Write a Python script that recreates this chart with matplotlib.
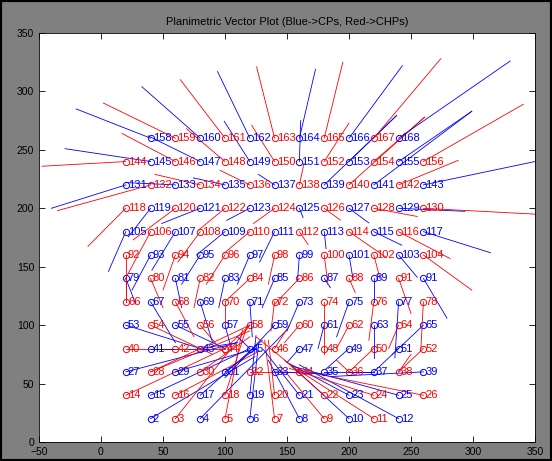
import matplotlib
matplotlib.use("Agg")
import matplotlib.pyplot as plt
from matplotlib.patches import Rectangle

plt.rcParams["font.family"] = ["Liberation Sans", "DejaVu Sans"]

# grid of check points, row by row (bottom to top)
row_y = [20, 40, 60, 80, 100, 120, 140, 160, 180, 200, 220, 240, 260]
x_short = [40, 60, 80, 100, 120, 140, 160, 180, 200, 220, 240]
x_full = [20, 40, 60, 80, 100, 120, 140, 160, 180, 200, 220, 240, 260]
row_first = [2, 14, 27, 40, 53, 66, 79, 92, 105, 118, 131, 144, 158]
printed_as = {90: "91"}  # the source figure prints point 90 as "91"
row_kind = [
    "BRBRBRBRBRB",
    "RBRBRBRBRBRBR",
    "BRBRBRBRBRBRB",
    "RBRBRBRBRBRBR",
    "BRBRBRBRBRBRB",
    "RBRBRBRBRBRBR",
    "BRBRBRBRBRBRB",
    "RBRBRBRBRBRBR",
    "BRBRBRBRBRBRB",
    "RBRBRBRBRBRBR",
    "BRBRBRBRBRBRB",
    "RBRBRBRBRBRBR",
    "BRBRBRBRBRB",
]

# vector components (dx, dy) per row
row_dx = [
    [84, 60, 70, 14, 7, -8, -25, -36, -46, -61, -80],
    [80, 80, 68, 50, 18, 5, -5, -29, -32, -48, -68, -86, -103],
    [90, 80, 65, 40, 25, 40, 45, -35, 40, -10, -20, 10, -75],
    [52, 40, 40, 30, 20, -10, 12, -10, 0, -19, -20, -20, -20],
    [60, 50, 40, 20, 5, -80, -40, -12, -5, -10, 0, -8, -25],
    [0, 20, 15, 10, 0, 2, -3, -10, 0, -10, -4, -3, -2],
    [8, 10, 5, -5, -5, -20, -10, -20, 5, 5, 0, 10, 19],
    [0, -15, -10, -15, -15, -10, -5, -1.5, 3, 3, 5, 15, 39],
    [-14, -21, -19, -18, -23, -21, -12, 7, 1.5, 30, 22.5, 41.5, 54],
    [-30.5, -18, -34, -31, -21.5, -18.6, -17, 3, 13, 16, 35, 53.5, 90],
    [-60, -75, -40, -36.5, -25.6, -24, -13, 3.7, 58.5, 61, 79, 48, 90],
    [-67.6, -69, -43, -42, -31, -20.6, -18.5, 1, 20, 38, 41, 59, 80.6],
    [-60, -58, -47, -36, -26, -14.5, 13, 15, 43, 54, 90],
]
row_dy = [
    [53, 80, 76, 76, 63, 67, 50, 46, 45, 41.5, 46],
    [40, 40, 38, 47, 60, 51, 47, 39, 30, 27, 23, 25, 22],
    [25, 35, 20, 30, 20, 0, -2, 30, 0, 10, 0, 15, -4],
    [0, 0, 0, 5, 20, 10, 20, -12, -5, -18, -20, -20, -20],
    [-20, -25, -20, -25, -20, -40, -45, -15, -20, -20, -28.5, -20, -25],
    [20, -35, -30, -35, -20, -30, -25, -25, -40, -30, -33, -48, -40],
    [-22, -25, -25, -25, -25, -20, -25, -22, -8, -12, -20, -30, -34],
    [-40, -30, -30, -25, -25, -25, -25, -22, -25, -19, -20, -19, -30],
    [-34, -41.5, -33, -26, -20, -18.7, -26, -11, -14.5, -22, -11.6, -23, -18],
    [-32.5, -24.5, -27, -13, -18.8, -10.3, -13, -8, -10, -12.5, -7, -2.6, -5],
    [-20, -22, 2, 9, 6, 12.5, 9, 18.5, 59.5, 58, 63, 21, 20],
    [-4, 11, 24, 22, 28, 34.4, 31, 35, 33, 39, 38, 43, 49],
    [25, 30, 44, 50, 57, 61, 59, 65, 62, 68, 66],
]

colors = {"B": "#0000ff", "R": "#ff0000"}

fig = plt.figure(figsize=(5.52, 4.61), dpi=100, facecolor="#808080")
fig.patches.append(Rectangle((0, 0), 1, 1, transform=fig.transFigure,
                             fill=False, edgecolor="black", linewidth=3))
ax = fig.add_axes([39 / 552, 19 / 461, 496 / 552, 409 / 461])

for r, y in enumerate(row_y):
    xs = x_short if len(row_kind[r]) == 11 else x_full
    for i, x in enumerate(xs):
        c = colors[row_kind[r][i]]
        n = row_first[r] + i
        ax.plot([x, x + row_dx[r][i]], [y, y + row_dy[r][i]], color=c, linewidth=0.6)
        ax.plot(x, y, "o", mfc="none", mec=c, ms=4.5, mew=0.7)
        ax.annotate(printed_as.get(n, str(n)), (x, y), xytext=(1.5, 0), textcoords="offset points",
                    color=c, fontsize=8, va="center", ha="left")

ax.set_xlim(-50, 350)
ax.set_ylim(0, 350)
ax.set_xticks(range(-50, 351, 50))
ax.set_yticks(range(0, 351, 50))
ax.tick_params(direction="in", top=True, right=True, labelsize=7.5, length=4, width=0.6)
for s in ax.spines.values():
    s.set_linewidth(0.6)
ax.set_title("Planimetric Vector Plot (Blue->CPs, Red->CHPs)", fontsize=8, pad=6)

fig.savefig("out.png", dpi=100, facecolor=fig.get_facecolor())
